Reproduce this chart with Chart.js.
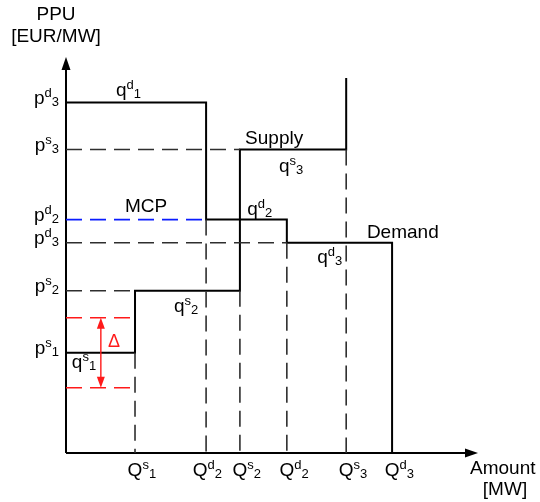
<!DOCTYPE html>
<html>
<head>
<meta charset="utf-8">
<script src="https://cdn.jsdelivr.net/npm/chart.js@4.4.1/dist/chart.umd.min.js"></script>
<style>
  html, body { margin: 0; padding: 0; background: #fff; }
  #wrap { width: 540px; height: 502px; position: relative; }
</style>
</head>
<body>
<div id="wrap"><canvas id="step-chart"></canvas></div>
<script>
// Step values (amount in MW-ish units, price in EUR/MW-ish units)
const supplyQ = [20, 50.4, 81.2];      // Qs1, Qs2, Qs3
const supplyP = [28.6, 46.3, 86.6];    // ps1, ps2, ps3
const supplyTop = 107;
const demandQ = [40.6, 64, 94.5];      // Qd1 (labelled Qd2), Qd2, Qd3
const demandP = [100, 66.6, 60];       // pd3 (top), pd2, pd3
const deltaBand = [38.6, 18.6];        // red band round ps1
const deltaAt = 10.1;
const xMax = 119.4;
const yMax = 113;

// tick labels: [base, superscript, subscript]
const xTickValues = [supplyQ[0], demandQ[0], supplyQ[1], demandQ[1], supplyQ[2], demandQ[2]];
const xTickLabels = [["Q", "s", "1"], ["Q", "d", "2"], ["Q", "s", "2"], ["Q", "d", "2"], ["Q", "s", "3"], ["Q", "d", "3"]];
const yTickValues = [demandP[0], supplyP[2], demandP[1], demandP[2], supplyP[1], supplyP[0]];
const yTickLabels = [["p", "d", "3"], ["p", "s", "3"], ["p", "d", "2"], ["p", "d", "3"], ["p", "s", "2"], ["p", "s", "1"]];

const FONT = '"Liberation Sans", Arial, sans-serif';

// in-chart notes
const notes = [
  { parts: ["q", "d", "1"], x: 14.5, y: 102 },
  { parts: ["Supply"], x: 51.9, y: 88.3 },
  { parts: ["q", "s", "3"], x: 61.7, y: 80.3 },
  { parts: ["MCP"], x: 17.1, y: 68.9 },
  { parts: ["q", "d", "2"], x: 52.5, y: 68 },
  { parts: ["Demand"], x: 87.2, y: 61.4 },
  { parts: ["q", "d", "3"], x: 72.8, y: 54.3 },
  { parts: ["q", "s", "2"], x: 31.3, y: 40.3 },
  { parts: ["q", "s", "1"], x: 1.7, y: 24.3 },
];

function pt(x, y) { return { x: x, y: y }; }

function seg(points, color, width, dash) {
  return {
    data: points,
    showLine: true,
    borderColor: color,
    borderWidth: width,
    borderDash: dash || [],
    pointRadius: 0,
    fill: false,
    clip: false,
    tension: 0,
  };
}

const GREY = "#2e2e2e";
const BLUE = "#0a1cff";
const RED = "#ff1a1a";
const DASH = [16, 8];

const supplyLine = [
  pt(0, supplyP[0]), pt(supplyQ[0], supplyP[0]), pt(supplyQ[0], supplyP[1]),
  pt(supplyQ[1], supplyP[1]), pt(supplyQ[1], supplyP[2]), pt(supplyQ[2], supplyP[2]),
  pt(supplyQ[2], supplyTop),
];
const demandLine = [
  pt(0, demandP[0]), pt(demandQ[0], demandP[0]), pt(demandQ[0], demandP[1]),
  pt(demandQ[1], demandP[1]), pt(demandQ[1], demandP[2]), pt(demandQ[2], demandP[2]),
  pt(demandQ[2], 0),
];

const datasets = [
  // guides
  seg([pt(0, supplyP[2]), pt(supplyQ[1], supplyP[2])], GREY, 1.6, DASH),
  seg([pt(0, supplyP[1]), pt(supplyQ[0], supplyP[1])], GREY, 1.6, DASH),
  seg([pt(0, demandP[2]), pt(demandQ[1], demandP[2])], GREY, 1.6, DASH),
  seg([pt(0, demandP[1]), pt(demandQ[0], demandP[1])], BLUE, 1.6, DASH),
  seg([pt(supplyQ[0], supplyP[0]), pt(supplyQ[0], 0)], GREY, 1.6, DASH),
  seg([pt(demandQ[0], demandP[1]), pt(demandQ[0], 0)], GREY, 1.6, DASH),
  seg([pt(supplyQ[1], supplyP[1]), pt(supplyQ[1], 0)], GREY, 1.6, DASH),
  seg([pt(demandQ[1], demandP[2]), pt(demandQ[1], 0)], GREY, 1.6, DASH),
  seg([pt(supplyQ[2], supplyP[2]), pt(supplyQ[2], 0)], GREY, 1.6, DASH),
  // delta band
  seg([pt(0, deltaBand[0]), pt(supplyQ[0], deltaBand[0])], RED, 1.6, DASH),
  seg([pt(0, deltaBand[1]), pt(supplyQ[0], deltaBand[1])], RED, 1.6, DASH),
  seg([pt(deltaAt, deltaBand[0] - 2.5), pt(deltaAt, deltaBand[1] + 2.5)], RED, 1.4),
  // curves
  seg(supplyLine, "#000", 2),
  seg(demandLine, "#000", 2),
  // axes
  seg([pt(0, 0), pt(xMax - 3, 0)], "#000", 2),
  seg([pt(0, 0), pt(0, yMax - 3)], "#000", 2),
];

function drawParts(ctx, parts, x, y, align, size, color) {
  const big = size + "px " + FONT;
  const small = Math.round(size * 0.68) + "px " + FONT;
  ctx.font = big;
  const wb = ctx.measureText(parts[0]).width;
  ctx.font = small;
  const ws = parts[1] ? ctx.measureText(parts[1]).width : 0;
  const wsub = parts[2] ? ctx.measureText(parts[2]).width : 0;
  const total = wb + ws + wsub;
  let sx = x;
  if (align === "right") sx = x - total;
  if (align === "base-center") sx = x - wb / 2;
  ctx.fillStyle = color || "#000";
  ctx.textAlign = "left";
  ctx.textBaseline = "alphabetic";
  ctx.font = big;
  ctx.fillText(parts[0], sx, y);
  ctx.font = small;
  if (parts[1]) ctx.fillText(parts[1], sx + wb, y - 7);
  if (parts[2]) ctx.fillText(parts[2], sx + wb + ws, y + 2);
}

function tri(ctx, x1, y1, x2, y2, x3, y3, color) {
  ctx.beginPath();
  ctx.moveTo(x1, y1); ctx.lineTo(x2, y2); ctx.lineTo(x3, y3);
  ctx.closePath();
  ctx.fillStyle = color;
  ctx.fill();
}

const labelsPlugin = {
  id: "stepLabels",
  afterDraw(chart) {
    const ctx = chart.ctx;
    const xs = chart.scales.x, ys = chart.scales.y;
    const x0 = xs.getPixelForValue(0), y0 = ys.getPixelForValue(0);
    ctx.save();
    // axis arrow heads
    const xt = xs.getPixelForValue(xMax);
    tri(ctx, xt, y0, xt - 13, y0 - 4.5, xt - 13, y0 + 4.5, "#000");
    const yt = ys.getPixelForValue(yMax);
    tri(ctx, x0, yt, x0 - 4.5, yt + 13, x0 + 4.5, yt + 13, "#000");
    // delta arrow heads
    const dx = xs.getPixelForValue(deltaAt);
    const dTop = ys.getPixelForValue(deltaBand[0]);
    const dBot = ys.getPixelForValue(deltaBand[1]);
    tri(ctx, dx, dTop, dx - 4, dTop + 11, dx + 4, dTop + 11, RED);
    tri(ctx, dx, dBot, dx - 4, dBot - 11, dx + 4, dBot - 11, RED);
    ctx.font = "18px " + FONT;
    ctx.fillStyle = RED;
    ctx.textBaseline = "alphabetic";
    ctx.fillText("\u0394", xs.getPixelForValue(12.2), ys.getPixelForValue(30.3));

    // tick labels
    yTickValues.forEach((v, i) => {
      drawParts(ctx, yTickLabels[i], x0 - 7, ys.getPixelForValue(v) + 1, "right", 19);
    });
    xTickValues.forEach((v, i) => {
      const shift = i === 1 ? -6 : 0;
      drawParts(ctx, xTickLabels[i], xs.getPixelForValue(v) + shift, y0 + 23, "base-center", 19);
    });
    // notes
    notes.forEach((n) => {
      drawParts(ctx, n.parts, xs.getPixelForValue(n.x), ys.getPixelForValue(n.y), "left", 19);
    });
    // axis titles
    ctx.fillStyle = "#000";
    ctx.font = "19px " + FONT;
    ctx.textAlign = "center";
    ctx.fillText("PPU", 56, 20);
    ctx.fillText("[EUR/MW]", 56, 42);
    ctx.textAlign = "left";
    ctx.fillText("Amount", 470, 474);
    ctx.textAlign = "center";
    ctx.fillText("[MW]", 505, 495);
    ctx.restore();
  },
};

new Chart(document.getElementById("step-chart"), {
  type: "scatter",
  data: { datasets: datasets },
  options: {
    responsive: true,
    maintainAspectRatio: false,
    animation: false,
    layout: { padding: { left: 66, right: 62, top: 57, bottom: 49 } },
    plugins: {
      legend: { display: false },
      tooltip: { enabled: false },
      title: { display: false },
    },
    scales: {
      x: { type: "linear", min: 0, max: xMax, display: false },
      y: { type: "linear", min: 0, max: yMax, display: false },
    },
  },
  plugins: [labelsPlugin],
});
</script>
</body>
</html>
